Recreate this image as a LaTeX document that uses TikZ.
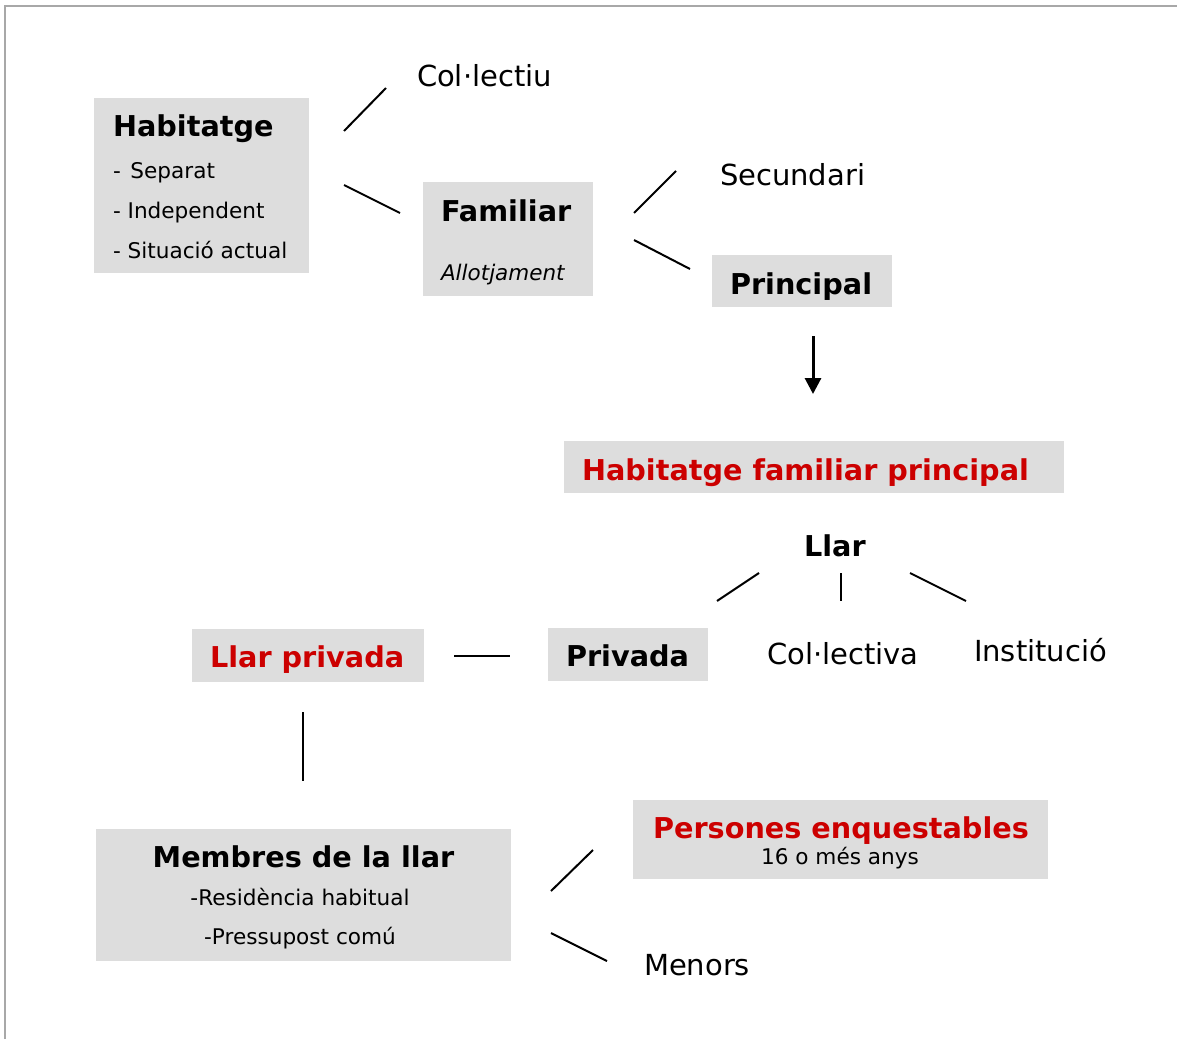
\documentclass[tikz,border=0pt]{standalone}
\usepackage{fontspec}
\setmainfont{DejaVu Sans}
\usetikzlibrary{arrows.meta}
\definecolor{boxgray}{HTML}{DDDDDD}
\definecolor{hred}{HTML}{CC0000}
\definecolor{framegray}{HTML}{A8A8A8}
\begin{document}
\begin{tikzpicture}[x=1pt,y=-1pt,
  box/.style={fill=boxgray, draw=none, inner sep=0pt, outer sep=0pt, anchor=north west},
  txt/.style={inner sep=0pt, outer sep=0pt, anchor=base west},
  ctxt/.style={inner sep=0pt, outer sep=0pt, anchor=base},
  bigb/.style={font=\fontsize{28.7}{34}\selectfont\bfseries},
  big/.style={font=\fontsize{29}{34}\selectfont},
  small/.style={font=\fontsize{21.6}{26}\selectfont},
  smallit/.style={font=\fontsize{21.5}{26}\selectfont\itshape},
  conn/.style={line width=2pt, line cap=butt}]
\useasboundingbox (0,0) rectangle (1177,1039);
\fill[white] (0,0) rectangle (1177,1039);
% frame
\draw[framegray, line width=2pt] (4.5,1039) -- (4.5,5.5) -- (1177,5.5);

% boxes
\node[box, minimum width=215pt, minimum height=175pt] (habbox) at (94,98) {};
\node[box, minimum width=170pt, minimum height=114pt] (fambox) at (423,182) {};
\node[box, minimum width=180pt, minimum height=52pt] (prinbox) at (712,255) {};
\node[box, minimum width=500pt, minimum height=52pt] (hfpbox) at (564,441) {};
\node[box, minimum width=160pt, minimum height=53pt] (privbox) at (548,628) {};
\node[box, minimum width=232pt, minimum height=53pt] (llpbox) at (192,629) {};
\node[box, minimum width=415pt, minimum height=132pt] (membox) at (96,829) {};
\node[box, minimum width=415pt, minimum height=79pt] (persbox) at (633,800) {};

% texts
\node[txt,bigb] (habt) at (113,136) {Habitatge};
\node[txt,small] (hab1) at (113,178) {-\hspace{0.45em}Separat};
\node[txt,small] (hab2) at (113,218) {- Independent};
\node[txt,small] (hab3) at (113,258) {- Situació actual};

\node[txt,big] (colectiu) at (417,86) {Col·lectiu};

\node[txt,bigb] (famt) at (441,221) {Familiar};
\node[txt,smallit] (allot) at (441,280) {Allotjament};

\node[txt,big] (secund) at (720,185) {Secundari};
\node[txt,bigb] (prin) at (730,294) {Principal};

\node[txt,bigb,text=hred] (hfp) at (582,480) {Habitatge familiar principal};

\node[txt,bigb] (llar) at (804,556) {Llar};
\node[txt,bigb] (priv) at (566,666) {Privada};
\node[txt,big] (colectiva) at (767,664) {Col·lectiva};
\node[txt,big] (instit) at (974,661) {Institució};

\node[txt,bigb,text=hred] (llp) at (210,667) {Llar privada};

\node[ctxt,bigb] (memt) at (303.5,867) {Membres de la llar};
\node[ctxt,small] (mem1) at (300,905) {-Residència habitual};
\node[ctxt,small] (mem2) at (300,944) {-Pressupost comú};

\node[ctxt,bigb,text=hred] (perst) at (841,838) {Persones enquestables};
\node[ctxt,small] (pers1) at (840,864) {16 o més anys};

\node[txt,big] (menors) at (644,975) {Menors};

% connector end points
\coordinate (a1) at (344,131); \coordinate (a2) at (386,88);
\coordinate (b1) at (344,185); \coordinate (b2) at (400,213);
\coordinate (c1) at (634,213); \coordinate (c2) at (676,171);
\coordinate (d1) at (634,240); \coordinate (d2) at (690,269);
\coordinate (e1) at (813,336); \coordinate (e2) at (813,394);
\coordinate (f1) at (759,573); \coordinate (f2) at (717,601);
\coordinate (g1) at (841,573); \coordinate (g2) at (841,601);
\coordinate (h1) at (910,573); \coordinate (h2) at (966,601);
\coordinate (i1) at (454,656); \coordinate (i2) at (510,656);
\coordinate (j1) at (303,712); \coordinate (j2) at (303,781);
\coordinate (k1) at (551,891); \coordinate (k2) at (593,850);
\coordinate (l1) at (551,933); \coordinate (l2) at (607,961);

\draw[conn] (a1) -- (a2);
\draw[conn] (b1) -- (b2);
\draw[conn] (c1) -- (c2);
\draw[conn] (d1) -- (d2);
\draw[line width=3pt, -{Triangle[width=16pt,length=16pt]}] (e1) -- (e2);
\draw[conn] (f1) -- (f2);
\draw[conn] (g1) -- (g2);
\draw[conn] (h1) -- (h2);
\draw[conn] (i1) -- (i2);
\draw[conn] (j1) -- (j2);
\draw[conn] (k1) -- (k2);
\draw[conn] (l1) -- (l2);
\end{tikzpicture}
\end{document}
